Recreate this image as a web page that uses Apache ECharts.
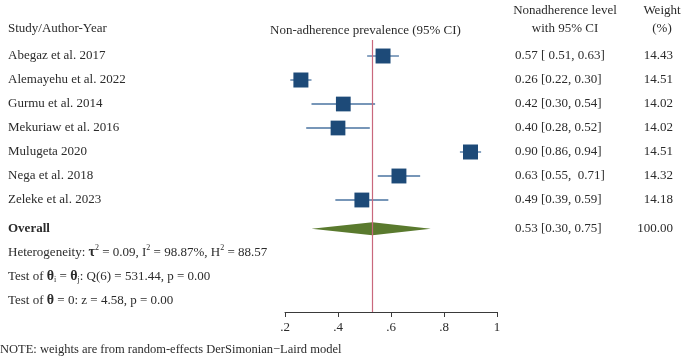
<!DOCTYPE html>
<html>
<head>
<meta charset="utf-8">
<script src="https://cdn.jsdelivr.net/npm/echarts@6/dist/echarts.min.js"></script>
<style>
  html, body { margin: 0; padding: 0; background: #fff; }
  #forestDiv { width: 685px; height: 359px; }
</style>
</head>
<body>
<div id="forestDiv"></div>
<script>
var studies = ['Abegaz et al. 2017', 'Alemayehu et al. 2022', 'Gurmu et al. 2014', 'Mekuriaw et al. 2016', 'Mulugeta 2020', 'Nega et al. 2018', 'Zeleke et al. 2023'];
var estimates = [0.57, 0.26, 0.42, 0.40, 0.90, 0.63, 0.49];
var lowerCI = [0.51, 0.22, 0.30, 0.28, 0.86, 0.55, 0.39];
var upperCI = [0.63, 0.30, 0.54, 0.52, 0.94, 0.71, 0.59];
var weights = [14.43, 14.51, 14.02, 14.02, 14.51, 14.32, 14.18];
var overall = [0.53, 0.30, 0.75];
var overallWeight = 100.00;
var xTicks = ['.2', '.4', '.6', '.8', '1'];

var FONT = '"Liberation Serif", "DejaVu Serif", serif';
var TXT = '#2b2b2b';
var overallRow = 7.2;

function fmt(v) { return v.toFixed(2); }
// Stata pads numbers containing narrow "1" glyphs
function pad(v) { var s = fmt(v); return s.indexOf('1') >= 0 ? ' ' + s : s; }
function ciText(e, l, u) {
	return fmt(e) + ' [' + pad(l) + ', ' + pad(u) + ']';
}

var studyData = [];
for (var i = 0; i < studies.length; i++) {
	studyData.push([estimates[i], i, lowerCI[i], upperCI[i], weights[i]]);
}

var chart = echarts.init(document.getElementById('forestDiv'));

var option = {
	animation: false,
	backgroundColor: '#fff',
	textStyle: { fontFamily: FONT },
	grid: { left: 285, right: 188, top: 40, bottom: 47 },
	xAxis: {
		type: 'value', min: 0.2, max: 1, interval: 0.2, position: 'bottom',
		splitLine: { show: false },
		axisLine: { onZero: false, lineStyle: { color: '#3a3a3a', width: 1 } },
		axisTick: { length: 5, lineStyle: { color: '#3a3a3a' } },
		axisLabel: {
			color: TXT, fontSize: 13, fontFamily: FONT, margin: 9,
			formatter: function (v) { return xTicks[Math.round((v - 0.2) / 0.2)]; }
		}
	},
	yAxis: { type: 'value', min: -0.667, max: 10.667, inverse: true, show: false },
	graphic: [
		{ type: 'text', left: 8, top: 22, style: { text: 'Study/Author-Year', font: '13px ' + FONT, fill: TXT } },
		{ type: 'text', left: 270, top: 24, style: { text: 'Non-adherence prevalence (95% CI)', font: '13px ' + FONT, fill: TXT } },
		{ type: 'text', x: 565, y: 4, style: { text: 'Nonadherence level', font: '13px ' + FONT, fill: TXT, align: 'center' } },
		{ type: 'text', x: 565, y: 22, style: { text: 'with 95% CI', font: '13px ' + FONT, fill: TXT, align: 'center' } },
		{ type: 'text', x: 662, y: 4, style: { text: 'Weight', font: '13px ' + FONT, fill: TXT, align: 'center' } },
		{ type: 'text', x: 662, y: 22, style: { text: '(%)', font: '13px ' + FONT, fill: TXT, align: 'center' } },
		{ type: 'text', left: 0, top: 343, style: { text: 'NOTE: weights are from random-effects DerSimonian\u2212Laird model', font: '12.5px ' + FONT, fill: TXT } }
	],
	series: [
		{
			// confidence intervals, squares and text columns for each study
			type: 'custom',
			data: studyData,
			renderItem: function (params, api) {
				var row = api.value(1);
				var c = api.coord([api.value(0), row]);
				var l = api.coord([api.value(2), row]);
				var u = api.coord([api.value(3), row]);
				var s = 15 * Math.sqrt(api.value(4) / 14.51);
				var idx = params.dataIndex;
				return {
					type: 'group',
					children: [
						{ type: 'line', shape: { x1: l[0], y1: c[1], x2: u[0], y2: c[1] }, style: { stroke: '#4a73a0', lineWidth: 1.3 } },
						{ type: 'rect', shape: { x: c[0] - s / 2, y: c[1] - s / 2, width: s, height: s }, style: { fill: '#1d4a78' } },
						{ type: 'text', x: 8, y: c[1], style: { text: studies[idx], font: '13px ' + FONT, fill: TXT, verticalAlign: 'middle' } },
						{ type: 'text', x: 515, y: c[1], style: { text: ciText(estimates[idx], lowerCI[idx], upperCI[idx]), font: '13px ' + FONT, fill: TXT, verticalAlign: 'middle' } },
						{ type: 'text', x: 673, y: c[1], style: { text: fmt(weights[idx]), font: '13px ' + FONT, fill: TXT, align: 'right', verticalAlign: 'middle' } }
					]
				};
			},
			markLine: {
				silent: true, symbol: 'none',
				label: { show: false },
				lineStyle: { color: '#c9687c', width: 1.2, type: 'solid' },
				data: [{ xAxis: overall[0] }]
			},
			z: 3
		},
		{
			// overall diamond and summary text
			type: 'custom',
			data: [[overall[0], overallRow, overall[1], overall[2]]],
			renderItem: function (params, api) {
				var row = api.value(1);
				var c = api.coord([api.value(0), row]);
				var l = api.coord([api.value(2), row]);
				var u = api.coord([api.value(3), row]);
				var h = 6.5;
				var y1 = api.coord([0.2, 8.2])[1];
				var y2 = api.coord([0.2, 9.2])[1];
				var y3 = api.coord([0.2, 10.2])[1];
				var rich = {
					sup: { fontSize: 8, fontFamily: FONT, padding: [0, 0, 9, 0], fill: TXT },
					sub: { fontSize: 8, fontFamily: FONT, padding: [7, 0, 0, 0], fill: TXT },
					g: { fontSize: 14, fontWeight: 'bold', fontFamily: FONT, fill: TXT }
				};
				return {
					type: 'group',
					children: [
						{ type: 'polygon', shape: { points: [[l[0], c[1]], [c[0], c[1] - h], [u[0], c[1]], [c[0], c[1] + h]] }, style: { fill: '#5a7a2e' } },
						{ type: 'text', x: 8, y: c[1], style: { text: 'Overall', font: 'bold 13px ' + FONT, fill: TXT, verticalAlign: 'middle' } },
						{ type: 'text', x: 515, y: c[1], style: { text: ciText(overall[0], overall[1], overall[2]), font: '13px ' + FONT, fill: TXT, verticalAlign: 'middle' } },
						{ type: 'text', x: 673, y: c[1], style: { text: fmt(overallWeight), font: '13px ' + FONT, fill: TXT, align: 'right', verticalAlign: 'middle' } },
						{ type: 'text', x: 8, y: y1, style: { text: 'Heterogeneity: {g|\u03c4}{sup|2} = 0.09, I{sup|2} = 98.87%, H{sup|2} = 88.57', rich: rich, font: '13px ' + FONT, fill: TXT, verticalAlign: 'middle' } },
						{ type: 'text', x: 8, y: y2, style: { text: 'Test of {g|\u03b8}{sub|i} = {g|\u03b8}{sub|j}: Q(6) = 531.44, p = 0.00', rich: rich, font: '13px ' + FONT, fill: TXT, verticalAlign: 'middle' } },
						{ type: 'text', x: 8, y: y3, style: { text: 'Test of {g|\u03b8} = 0: z = 4.58, p = 0.00', rich: rich, font: '13px ' + FONT, fill: TXT, verticalAlign: 'middle' } }
					]
				};
			},
			z: 2
		}
	]
};

chart.setOption(option);
</script>
</body>
</html>
